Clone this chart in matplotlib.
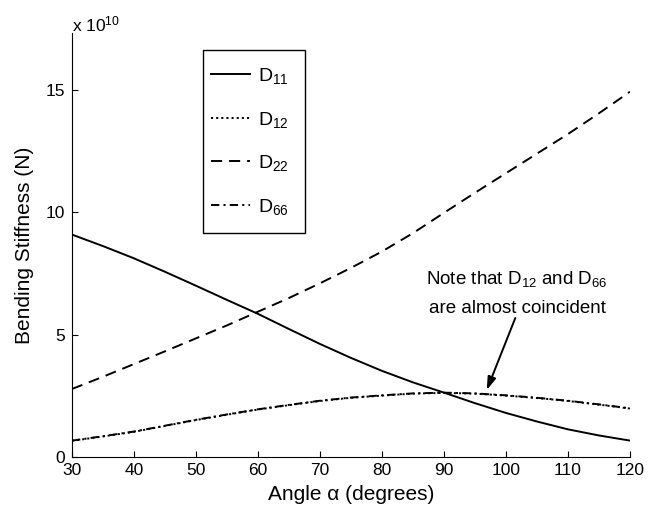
import matplotlib
matplotlib.use("Agg")
import matplotlib.pyplot as plt
from matplotlib.patches import Rectangle

plt.rcParams['font.family'] = ['Liberation Sans', 'DejaVu Sans']
plt.rcParams['mathtext.fontset'] = 'custom'
plt.rcParams['mathtext.rm'] = 'Liberation Sans'
plt.rcParams['mathtext.it'] = 'Liberation Sans:italic'
plt.rcParams['mathtext.default'] = 'regular'
plt.rcParams['lines.scale_dashes'] = False

# Data (values in units of 1e10)
angle = [30, 35, 40, 45, 50, 55, 60, 65, 70, 75, 80, 85, 90, 95, 100, 105, 110, 115, 120]
D11 = [9.09, 8.62, 8.12, 7.57, 7.00, 6.42, 5.85, 5.23, 4.62, 4.05, 3.52, 3.05, 2.63, 2.20, 1.80, 1.45, 1.13, 0.88, 0.67]
D12 = [0.66, 0.84, 1.03, 1.27, 1.51, 1.73, 1.94, 2.12, 2.29, 2.42, 2.51, 2.59, 2.62, 2.59, 2.51, 2.41, 2.29, 2.14, 1.98]
D22 = [2.78, 3.28, 3.80, 4.32, 4.85, 5.38, 5.94, 6.50, 7.10, 7.73, 8.40, 9.15, 9.98, 10.80, 11.60, 12.40, 13.20, 14.05, 14.93]
D66 = [0.67, 0.85, 1.04, 1.28, 1.52, 1.74, 1.95, 2.13, 2.30, 2.43, 2.52, 2.60, 2.63, 2.60, 2.52, 2.42, 2.30, 2.15, 1.99]
labels = ['D$_{11}$', 'D$_{12}$', 'D$_{22}$', 'D$_{66}$']
xticks = [30, 40, 50, 60, 70, 80, 90, 100, 110, 120]
yticks = [0, 5, 10, 15]

fig = plt.figure(figsize=(6.61, 5.11), dpi=100)
ax = fig.add_axes([72/661, 54/511, 558/661, 424/511])

lw = 1.4
ax.plot(angle, D11, color='black', lw=lw, linestyle='-', label=labels[0])
ax.plot(angle, D12, color='black', lw=lw, linestyle=(0, (1.5, 2.2)), label=labels[1])
ax.plot(angle, D22, color='black', lw=lw, linestyle=(0, (8, 5)), label=labels[2])
ax.plot(angle, D66, color='black', lw=lw, linestyle=(0, (6, 3, 1.5, 3)), label=labels[3])

ax.set_xlim(30, 120)
ax.set_ylim(0, 17.33)
ax.set_xticks(xticks)
ax.set_yticks(yticks)
ax.tick_params(direction='in', length=4, width=0.8, labelsize=12.5)
ax.tick_params(axis='x', pad=4)
ax.tick_params(axis='y', pad=5)
for s in ['top', 'right']:
    ax.spines[s].set_visible(False)
for s in ['left', 'bottom']:
    ax.spines[s].set_linewidth(0.8)

ax.set_xlabel('Angle α (degrees)', fontsize=15, labelpad=5)
ax.set_ylabel('Bending Stiffness (N)', fontsize=15, labelpad=8)

fig.text(72/661, 1 - 31/511, 'x 10$^{10}$', fontsize=12.5, ha='left', va='baseline')

# legend entries without frame; frame drawn as a separate box
leg = ax.legend(loc='upper left', bbox_to_anchor=(0.249, 0.922), borderaxespad=0,
                frameon=False, fontsize=14,
                handlelength=2.0, handletextpad=0.4, labelspacing=1.21,
                borderpad=0.0)
ax.add_patch(Rectangle((0.2348, 0.5283), 0.4176 - 0.2348, 0.9599 - 0.5283,
                       transform=ax.transAxes, fill=False, edgecolor='black',
                       lw=1.0, zorder=5, clip_on=False))

ax.annotate('', xy=(96.9, 2.74), xytext=(101.5, 5.68),
            arrowprops=dict(arrowstyle='-|>,head_length=0.55,head_width=0.18', color='black', lw=1.4,
                            mutation_scale=14, shrinkA=0, shrinkB=0))
ax.text(101.8, 7.28, 'Note that D$_{12}$ and D$_{66}$', fontsize=13.5, ha='center', va='center')
ax.text(101.8, 6.09, 'are almost coincident', fontsize=13.5, ha='center', va='center')

fig.savefig('out.png', dpi=100)
